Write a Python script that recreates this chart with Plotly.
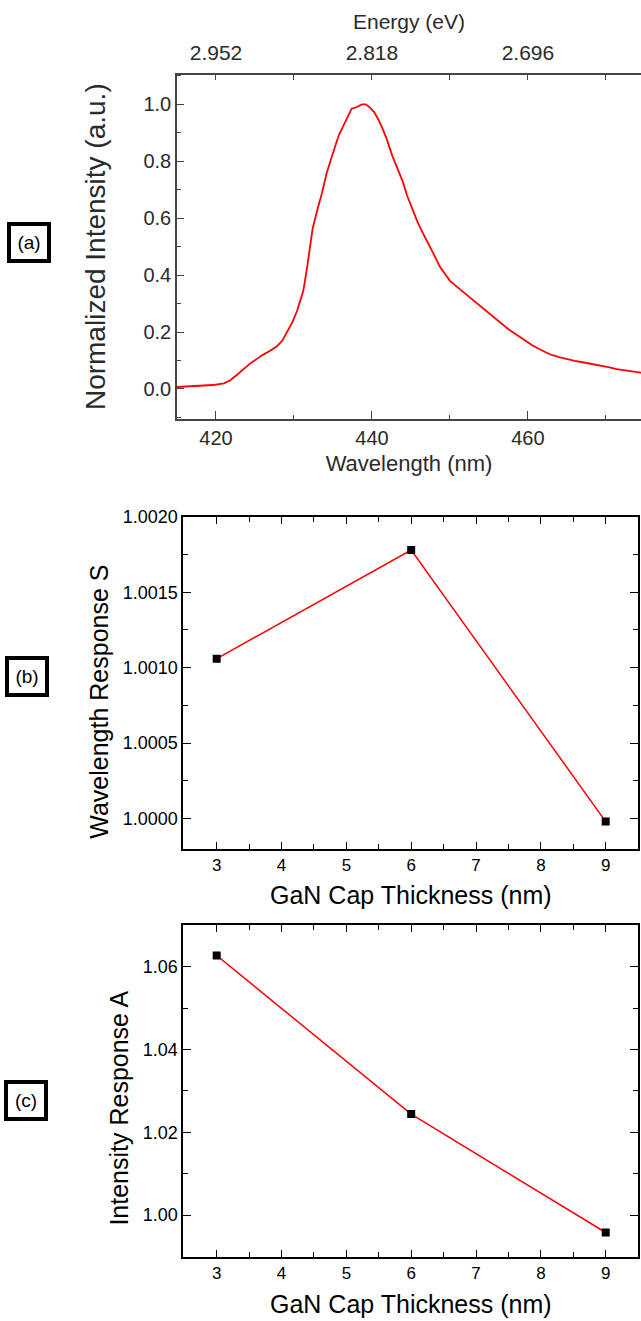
import plotly.graph_objects as go

W, H = 641, 1321

# ---------------- Data ----------------
# (a) PL spectrum
wavelength_nm = [415.0, 417.0, 419.6, 421.0, 421.8, 422.7, 423.5, 424.4, 425.2, 426.0, 427.0, 427.8,
                 428.5, 429.1, 429.8, 430.4, 431.2, 431.7, 432.4, 433.0, 433.6, 434.2, 434.8, 435.3,
                 435.8, 436.3, 436.9, 437.4, 438.0, 438.7, 439.2, 439.7, 440.3, 440.8, 441.4, 441.9,
                 442.6, 443.3, 444.0, 444.5, 445.2, 445.8, 446.4, 447.1, 447.9, 448.7, 450.0, 451.3,
                 452.6, 454.2, 455.3, 456.4, 457.5, 458.6, 459.6, 460.6, 461.7, 462.8, 464.0, 465.0,
                 466.0, 467.0, 468.1, 469.2, 470.3, 471.4, 472.7, 474.0, 474.6]
intensity = [0.007, 0.009, 0.014, 0.020, 0.030, 0.050, 0.070, 0.090, 0.105, 0.120, 0.135, 0.150,
             0.170, 0.200, 0.235, 0.275, 0.345, 0.430, 0.565, 0.630, 0.690, 0.760, 0.815, 0.855,
             0.895, 0.925, 0.960, 0.985, 0.990, 1.000, 1.000, 0.990, 0.972, 0.948, 0.912, 0.878,
             0.820, 0.775, 0.725, 0.680, 0.630, 0.590, 0.555, 0.520, 0.475, 0.430, 0.380, 0.350,
             0.320, 0.285, 0.258, 0.233, 0.210, 0.190, 0.170, 0.153, 0.137, 0.122, 0.112, 0.105,
             0.099, 0.094, 0.089, 0.084, 0.077, 0.070, 0.065, 0.060, 0.057]

# top axis: energy labels at wavelength positions
energy_tick_wavelengths = [420, 440, 460]
energy_tick_labels = ["2.952", "2.818", "2.696"]

# (b), (c)
cap_thickness_nm = [3, 6, 9]
wavelength_response_S = [1.00106, 1.00178, 0.99998]
intensity_response_A = [1.0627, 1.0244, 0.9958]

# ---------------- Layout helpers ----------------
def ydom(top_px, bot_px):
    return [1 - bot_px / H, 1 - top_px / H]

FONT = "Liberation Sans, Arial, sans-serif"
GRAYTXT = "#2a2a2a"

fig = go.Figure()

# (a)
fig.add_trace(go.Scatter(x=wavelength_nm, y=intensity, mode="lines",
                         line=dict(color="#ff0000", width=1.8), xaxis="x", yaxis="y",
                         showlegend=False, hoverinfo="skip"))
fig.add_trace(go.Scatter(x=wavelength_nm, y=intensity, mode="lines",
                         line=dict(color="rgba(0,0,0,0)", width=0), xaxis="x4", yaxis="y",
                         showlegend=False, hoverinfo="skip"))
# (b)
fig.add_trace(go.Scatter(x=cap_thickness_nm, y=wavelength_response_S, mode="lines+markers",
                         line=dict(color="#ff0000", width=1.5),
                         marker=dict(symbol="square", size=8, color="black"),
                         xaxis="x2", yaxis="y2", showlegend=False))
# (c)
fig.add_trace(go.Scatter(x=cap_thickness_nm, y=intensity_response_A, mode="lines+markers",
                         line=dict(color="#ff0000", width=1.5),
                         marker=dict(symbol="square", size=8, color="black"),
                         xaxis="x3", yaxis="y3", showlegend=False))

xa_range = [415.0, 474.5]
common_a = dict(showline=True, linecolor="#444444", linewidth=1.6, ticks="inside",
                tickcolor="#444444", tickwidth=1.4, showgrid=False, zeroline=False)
common_bc = dict(showline=True, linecolor="black", linewidth=1.8, ticks="inside",
                 tickcolor="black", tickwidth=1.4, showgrid=False, zeroline=False,
                 mirror="allticks")

fig.update_layout(
    width=W, height=H, margin=dict(l=0, r=0, t=0, b=0),
    paper_bgcolor="white", plot_bgcolor="white",
    font=dict(family=FONT, color="black"),
    xaxis=dict(domain=[177 / W, 1.0], anchor="y", range=xa_range,
               dtick=20, tick0=0, ticklen=8,
               tickfont=dict(family=FONT, size=20, color=GRAYTXT),
               minor=dict(dtick=10, tick0=0, ticklen=4, ticks="inside", tickcolor="#444444"),
               title=dict(text="Wavelength (nm)", font=dict(family=FONT, size=22, color=GRAYTXT),
                          standoff=8),
               **common_a),
    xaxis4=dict(overlaying="x", anchor="y", side="top", range=xa_range,
                tickmode="array", tickvals=energy_tick_wavelengths, ticktext=energy_tick_labels,
                ticklen=6, ticklabelstandoff=4,
                tickfont=dict(family=FONT, size=21, color=GRAYTXT),
                minor=dict(dtick=10, tick0=0, ticklen=6, ticks="inside", tickcolor="#444444"),
                title=dict(text="Energy (eV)", font=dict(family=FONT, size=21, color=GRAYTXT),
                           standoff=6),
                **common_a),
    yaxis=dict(domain=ydom(65, 412), anchor="x", range=[-0.105, 1.105],
               dtick=0.2, tick0=0, tickformat=".1f", ticklen=7,
               tickfont=dict(family=FONT, size=20, color=GRAYTXT),
               minor=dict(dtick=0.1, tick0=0, ticklen=4, ticks="inside", tickcolor="#444444"),
               title=dict(text="Normalized Intensity (a.u.)",
                          font=dict(family=FONT, size=28, color=GRAYTXT), standoff=30),
               **common_a),
    xaxis2=dict(domain=[183.3 / W, 638.3 / W], anchor="y2", range=[2.485, 9.503],
                dtick=1, ticklen=7,
                minor=dict(dtick=0.5, ticklen=5, ticks="inside", tickcolor="black"),
                tickfont=dict(family=FONT, size=17, color="black"),
                title=dict(text="GaN Cap Thickness (nm)", font=dict(family=FONT, size=25),
                           standoff=13),
                **common_bc),
    yaxis2=dict(domain=ydom(510.7, 845), anchor="x2", range=[0.999801, 1.0020],
                dtick=0.0005, tick0=1.0, tickformat=".4f", ticklen=8,
                minor=dict(dtick=0.00025, tick0=1.0, ticklen=5, ticks="inside", tickcolor="black"),
                tickfont=dict(family=FONT, size=18, color="black"),
                **common_bc),
    xaxis3=dict(domain=[183.3 / W, 638.3 / W], anchor="y3", range=[2.485, 9.503],
                dtick=1, ticklen=7,
                minor=dict(dtick=0.5, ticklen=5, ticks="inside", tickcolor="black"),
                tickfont=dict(family=FONT, size=17, color="black"),
                title=dict(text="GaN Cap Thickness (nm)", font=dict(family=FONT, size=25),
                           standoff=13),
                **common_bc),
    yaxis3=dict(domain=ydom(922.3, 1256.7), anchor="x3", range=[0.98984, 1.0700],
                dtick=0.02, tick0=1.0, tickformat=".2f", ticklen=8,
                minor=dict(dtick=0.01, tick0=1.0, ticklen=5, ticks="inside", tickcolor="black"),
                tickfont=dict(family=FONT, size=18, color="black"),
                **common_bc),
)

# y-axis titles of (b) and (c), placed where they sit in the original
for text, cx, cy in [("Wavelength Response S", 99, 697), ("Intensity Response A", 119, 1107)]:
    fig.add_annotation(xref="paper", yref="paper", x=cx / W, y=1 - cy / H,
                       xanchor="center", yanchor="middle", text=text, textangle=-90,
                       showarrow=False, font=dict(family=FONT, size=25, color="black"))

# panel labels in boxes
for label, cx, cy in [("(a)", 28.7, 234.5), ("(b)", 27, 672), ("(c)", 26, 1099)]:
    fig.add_annotation(xref="paper", yref="paper", x=cx / W, y=1 - cy / H,
                       xanchor="center", yanchor="middle", text=label, showarrow=False,
                       font=dict(family=FONT, size=19, color="black"),
                       width=36, height=33, borderpad=0, bordercolor="black", borderwidth=4,
                       bgcolor="white")

fig.write_html("out.html")
